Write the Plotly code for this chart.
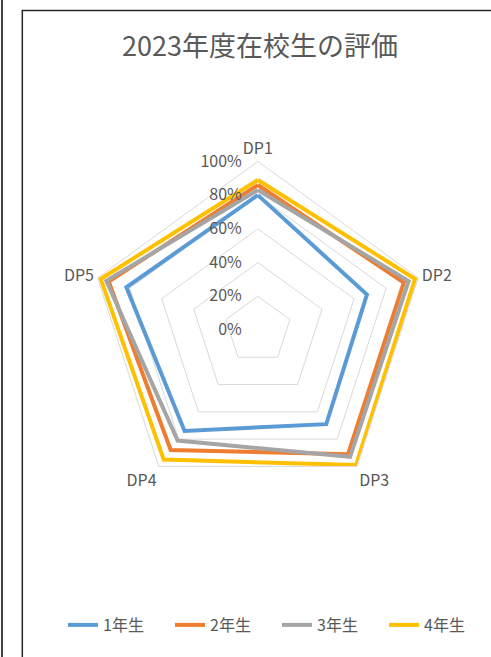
import plotly.graph_objects as go

# Evaluation of current students by diploma-policy item (share of positive ratings)
categories = ["DP1", "DP2", "DP3", "DP4", "DP5"]
series_names = ["1年生", "2年生", "3年生", "4年生"]
grade1 = [0.80, 0.68, 0.69, 0.74, 0.82]
grade2 = [0.86, 0.91, 0.91, 0.88, 0.93]
grade3 = [0.83, 0.94, 0.93, 0.81, 0.945]
grade4 = [0.89, 0.98, 0.99, 0.95, 0.98]
radial_ticks = [0, 0.2, 0.4, 0.6, 0.8, 1.0]
radial_tick_text = ["0%", "20%", "40%", "60%", "80%", "100%"]

colors = ["#5B9BD5", "#ED7D31", "#A5A5A5", "#FFC000"]
values = [grade1, grade2, grade3, grade4]

W, H = 491, 657
FONT = "Noto Sans CJK JP"
TEXT = "#595959"
GRID = "#D9D9D9"

fig = go.Figure()
for name, vals, col in zip(series_names, values, colors):
    fig.add_trace(go.Scatterpolar(
        r=vals + vals[:1],
        theta=categories + categories[:1],
        mode="lines",
        name=name,
        line=dict(color=col, width=4),
    ))

# polar area: centre (260, 330) px, radius 170 px
cx, cy, rad = 260, 330, 170
fig.update_layout(
    width=W, height=H,
    margin=dict(l=0, r=0, t=0, b=0),
    paper_bgcolor="white",
    font=dict(family=FONT, color=TEXT, size=16),
    title=dict(
        text="2023年度在校生の評価",
        x=cx / W, xanchor="center",
        y=1 - 47 / H, yanchor="middle",
        font=dict(size=27, color=TEXT, family=FONT),
    ),
    polar=dict(
        domain=dict(x=[(cx - rad) / W, (cx + rad) / W],
                    y=[1 - (cy + rad) / H, 1 - (cy - rad) / H]),
        bgcolor="white",
        gridshape="linear",
        angularaxis=dict(
            direction="clockwise", rotation=90,
            showgrid=False, showline=True, linecolor=GRID, linewidth=1,
            ticks="", tickfont=dict(size=16, color=TEXT),
        ),
        radialaxis=dict(
            range=[0, 1], angle=90, side="counterclockwise",
            tickvals=radial_ticks, ticktext=radial_tick_text,
            tickangle=90, showline=False,
            ticks="outside", ticklen=10, tickcolor="rgba(0,0,0,0)",
            gridcolor=GRID, gridwidth=1,
            tickfont=dict(size=16, color=TEXT),
        ),
    ),
    legend=dict(
        orientation="h",
        x=280 / W, xanchor="center",
        y=1 - 625 / H, yanchor="middle",
        font=dict(size=16, color=TEXT),
        entrywidth=62, entrywidthmode="pixels",
    ),
    shapes=[
        # chart frame
        dict(type="rect", xref="paper", yref="paper",
             x0=22.5 / W, x1=1.02, y0=-0.02, y1=1 - 10.5 / H,
             line=dict(color="#262626", width=1.5), fillcolor="rgba(0,0,0,0)"),
        # neighbouring frame edge on the far left
        dict(type="line", xref="paper", yref="paper",
             x0=2 / W, x1=2 / W, y0=0, y1=1,
             line=dict(color="#404040", width=2)),
    ],
)

fig.write_html("out.html")
